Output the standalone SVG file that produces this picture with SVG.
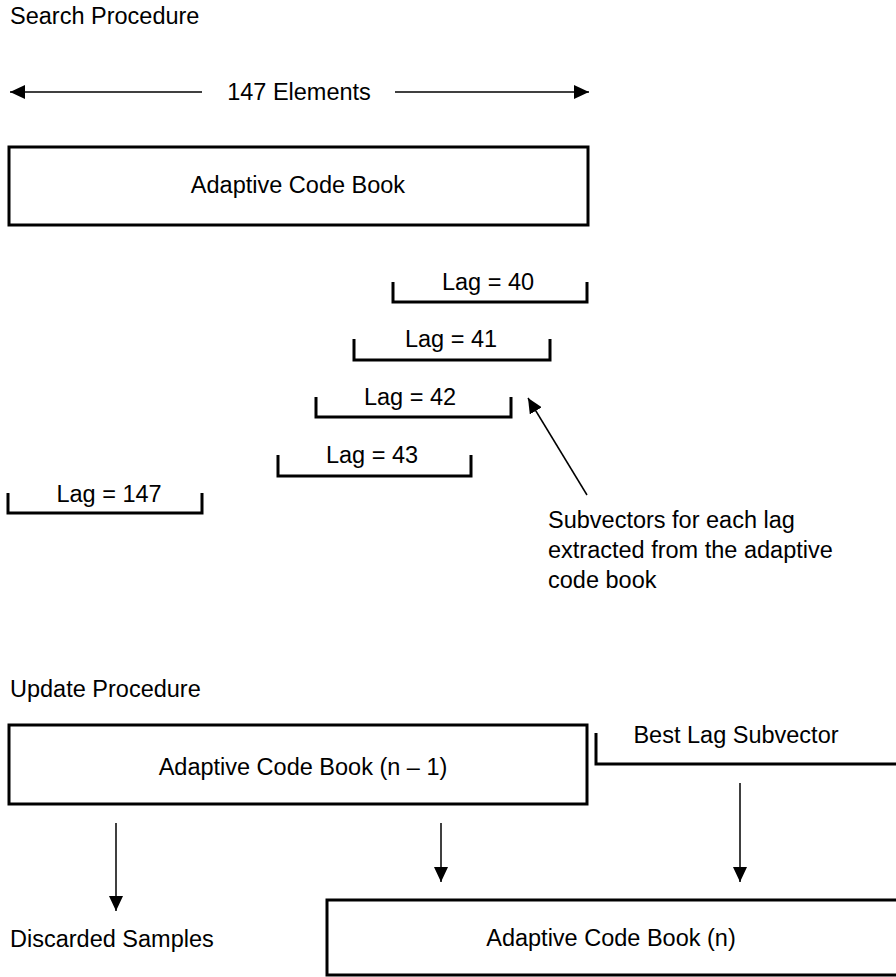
<svg xmlns="http://www.w3.org/2000/svg" width="896" height="977" viewBox="0 0 896 977">
<defs>
<style>
text{font-family:"Liberation Sans",Arial,Helvetica,sans-serif;font-size:23.5px;fill:#000}
.box{fill:#fff;stroke:#000;stroke-width:3}
.br{fill:none;stroke:#000;stroke-width:3;stroke-linejoin:miter}
.ln{fill:none;stroke:#000;stroke-width:1.5}
.mid{text-anchor:middle}
</style>
<marker id="ah" markerUnits="userSpaceOnUse" markerWidth="16" markerHeight="14" refX="15" refY="7" orient="auto-start-reverse" viewBox="0 0 16 14">
<path d="M0,0 L15,7 L0,14 z" fill="#000"/>
</marker>
</defs>
<rect width="896" height="977" fill="#fff"/>

<g id="title-search"><text x="10" y="24">Search Procedure</text></g>
<g id="elements-label"><text class="mid" x="299" y="100">147 Elements</text></g>

<g id="acb"><rect class="box" x="9" y="147" width="579" height="78"/><text class="mid" x="298" y="193">Adaptive Code Book</text></g>

<g id="lag40"><path class="br" d="M393,282 V302 H587 V282"/><text class="mid" x="488" y="290">Lag = 40</text></g>
<g id="lag41"><path class="br" d="M354,339 V360 H550 V339"/><text class="mid" x="451" y="347">Lag = 41</text></g>
<g id="lag42"><path class="br" d="M316,397 V417 H511 V397"/><text class="mid" x="410" y="405">Lag = 42</text></g>
<g id="lag43"><path class="br" d="M278,455 V476 H471 V455"/><text class="mid" x="372" y="463">Lag = 43</text></g>
<g id="lag147"><path class="br" d="M8,493 V513 H202 V493"/><text class="mid" x="109" y="502">Lag = 147</text></g>

<g id="annotation"><text x="548" y="528">Subvectors for each lag</text><text x="548" y="558">extracted from the adaptive</text><text x="548" y="588">code book</text></g>

<g id="title-update"><text x="10" y="697">Update Procedure</text></g>

<g id="acb-n-1"><rect class="box" x="9" y="725" width="578" height="79"/><text class="mid" x="303" y="775">Adaptive Code Book (n – 1)</text></g>

<g id="best-lag"><path class="br" d="M596,733 V764 H900"/><text class="mid" x="736" y="743">Best Lag Subvector</text></g>

<g id="discarded"><text x="10" y="947">Discarded Samples</text></g>

<g id="acb-n"><rect class="box" x="327" y="900" width="580" height="75"/><text class="mid" x="611" y="946">Adaptive Code Book (n)</text></g>

<g id="connectors">
<line class="ln" x1="202" y1="92" x2="10" y2="92" marker-end="url(#ah)"/>
<line class="ln" x1="395" y1="92" x2="589" y2="92" marker-end="url(#ah)"/>
<line class="ln" x1="587" y1="495" x2="528" y2="398" marker-end="url(#ah)"/>
<line class="ln" x1="116" y1="823" x2="116" y2="911" marker-end="url(#ah)"/>
<line class="ln" x1="441" y1="823" x2="441" y2="882" marker-end="url(#ah)"/>
<line class="ln" x1="740" y1="783" x2="740" y2="882" marker-end="url(#ah)"/>
</g>
</svg>
